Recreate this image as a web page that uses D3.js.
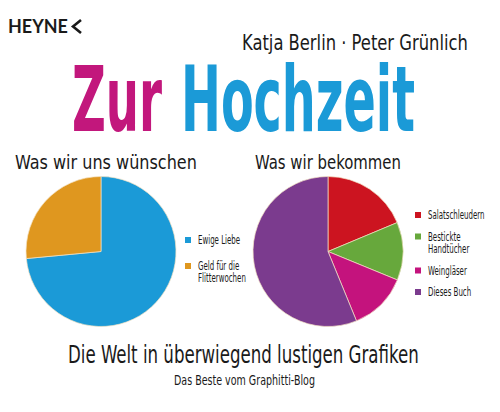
<!DOCTYPE html>
<html>
<head>
<meta charset="utf-8">
<script src="https://cdn.jsdelivr.net/npm/d3@7"></script>
<style>
  body { margin: 0; background: #fff; }
  text { font-family: "DejaVu Sans Condensed", "DejaVu Sans", sans-serif; fill: #1a1a1a; }
  .heyne { font-family: Lato, "DejaVu Sans", sans-serif; font-weight: bold; }
  .title { font-weight: bold; }
</style>
</head>
<body>
<div id="cover"></div>
<script>
// Left pie: what we wish for
const wishLabels = [["Ewige Liebe"], ["Geld für die", "Flitterwochen"]];
const wishValues = [73.5, 26.5];
const wishColors = ["#1b9ad7", "#df971f"];

// Right pie: what we get
const getLabels = [["Salatschleudern"], ["Bestickte", "Handtücher"], ["Weingläser"], ["Dieses Buch"]];
const getValues = [18.7, 12.5, 12.6, 56.2];
const getColors = ["#cc1420", "#67a83c", "#c4137d", "#7b3b8e"];

const width = 500, height = 412;

const svg = d3.select("#cover").append("svg")
    .attr("width", width)
    .attr("height", height);

svg.append("rect").attr("width", width).attr("height", height).attr("fill", "#fff");

// put a text at x,y and squeeze it sideways so it is w pixels wide
function fitText(x, y, w, size, str, cls) {
    const t = svg.append("text")
        .attr("class", cls || null)
        .style("font-size", size + "px")
        .text(str);
    const k = w / t.node().getComputedTextLength();
    t.attr("transform", `translate(${x},${y}) scale(${k},1)`);
    return t;
}

// Publisher mark
fitText(8, 33, 60, 18, "HEYNE", "heyne");
svg.append("path")
    .attr("d", "M81,20 L73,26.5 L81,33")
    .attr("fill", "none")
    .attr("stroke", "#1a1a1a")
    .attr("stroke-width", 2.6);

// Authors
fitText(242, 50, 226, 22, "Katja Berlin · Peter Grünlich");

// Title
fitText(72, 131, 90, 90, "Zur", "title").style("fill", "#c2177c");
fitText(181, 131, 234, 90, "Hochzeit", "title").style("fill", "#1b9ad7");

// Pie subtitles
fitText(15, 169, 182, 20, "Was wir uns wünschen");
fitText(255, 169, 146, 20, "Was wir bekommen");

const pie = d3.pie().sort(null);
const arc = d3.arc().innerRadius(0).outerRadius(75);

function drawPie(cx, cy, values, colors) {
    const g = svg.append("g").attr("transform", `translate(${cx},${cy})`);
    g.selectAll("path")
        .data(pie(values))
        .enter().append("path")
        .attr("d", arc)
        .attr("fill", (d, i) => colors[i])
        .attr("stroke", "#f3e2c4")
        .attr("stroke-width", 0.7);
}

// legend text is squeezed horizontally to get the narrow look of the cover font
function drawLegend(x, y0, labels, colors, gap, lineH) {
    const g = svg.append("g").attr("transform", `translate(${x},0)`);
    let y = y0;
    labels.forEach((lines, i) => {
        g.append("rect")
            .attr("x", 0).attr("y", y - 3)
            .attr("width", 6).attr("height", 6)
            .attr("fill", colors[i]);
        const t = g.append("text")
            .attr("transform", `translate(13,${y + 4}) scale(0.68,1)`)
            .style("font-size", "11.5px");
        lines.forEach((line, j) => {
            t.append("tspan")
                .attr("x", 0)
                .attr("dy", j === 0 ? 0 : lineH)
                .text(line);
        });
        y += gap + (lines.length - 1) * lineH;
    });
}

drawPie(101, 251.5, wishValues, wishColors);
drawPie(328, 251.5, getValues, getColors);

drawLegend(185, 240, wishLabels, wishColors, 26, 12);
drawLegend(415, 215, getLabels, getColors, 21.5, 12.5);

// Footer
fitText(68, 363, 351, 25, "Die Welt in überwiegend lustigen Grafiken");
fitText(174, 385, 141, 14, "Das Beste vom Graphitti-Blog");
</script>
</body>
</html>
